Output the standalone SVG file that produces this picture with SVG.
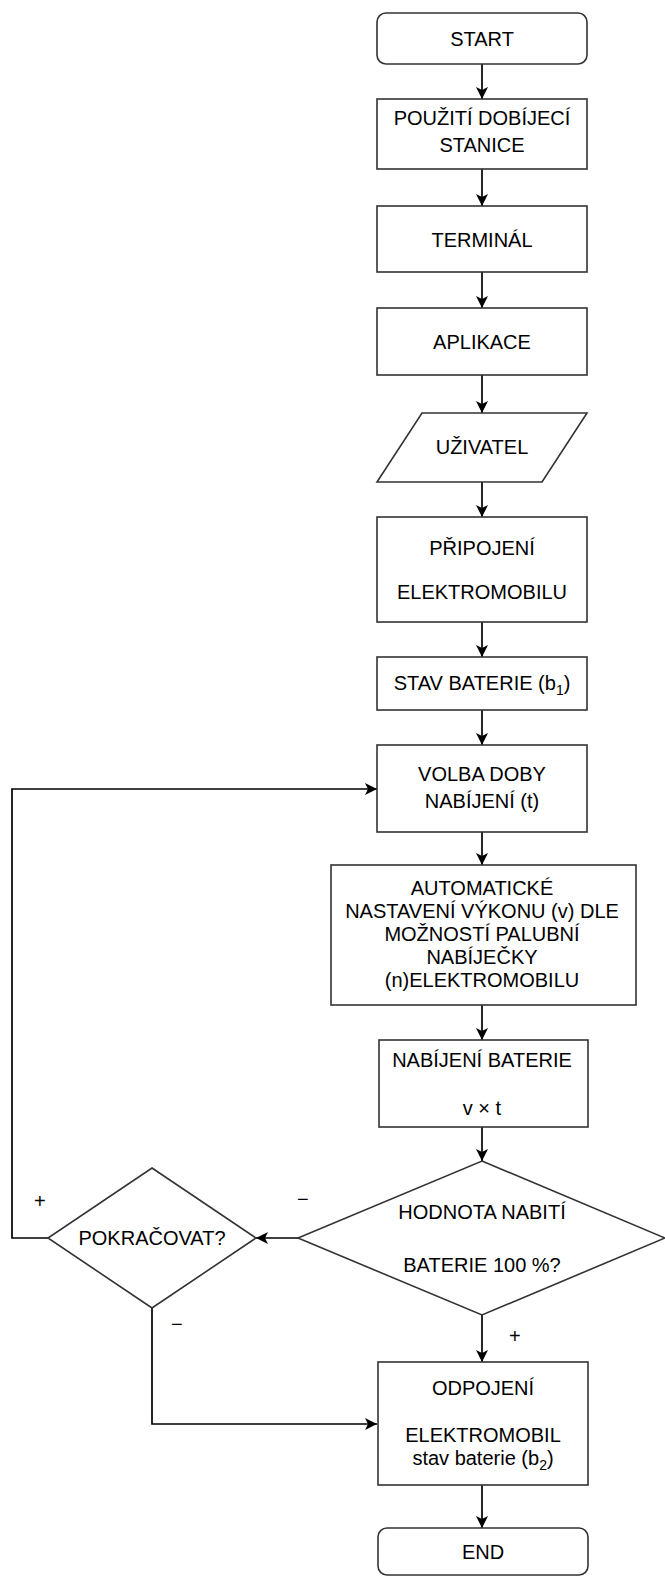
<svg xmlns="http://www.w3.org/2000/svg" width="665" height="1576" viewBox="0 0 665 1576">
<defs>
<marker id="arr" viewBox="0 0 10 10" refX="10" refY="5" markerWidth="12" markerHeight="12" markerUnits="userSpaceOnUse" orient="auto">
<path d="M0,0 L10,5 L0,10 L2.5,5 Z" fill="#000"/>
</marker>
<style>
.n{fill:#fff;stroke:#333;stroke-width:1.6}
.t{font-family:"Liberation Sans",Arial,sans-serif;font-size:20px;fill:#000;text-anchor:middle}
.c{fill:none;stroke:#000;stroke-width:1.7}
.l{font-family:"Liberation Sans",Arial,sans-serif;font-size:20px;fill:#000}
</style>
</defs>
<rect width="665" height="1576" fill="#fff"/>
<g id="connectors">
<path class="c" d="M482,64 V99" marker-end="url(#arr)"/>
<path class="c" d="M482,169 V206" marker-end="url(#arr)"/>
<path class="c" d="M482,272 V308" marker-end="url(#arr)"/>
<path class="c" d="M482,375 V413" marker-end="url(#arr)"/>
<path class="c" d="M482,482 V517" marker-end="url(#arr)"/>
<path class="c" d="M482,622 V657" marker-end="url(#arr)"/>
<path class="c" d="M482,710 V745" marker-end="url(#arr)"/>
<path class="c" d="M482,832 V865" marker-end="url(#arr)"/>
<path class="c" d="M482,1005 V1040" marker-end="url(#arr)"/>
<path class="c" d="M482,1127 V1161" marker-end="url(#arr)"/>
<path class="c" d="M298,1238 H256" marker-end="url(#arr)"/>
<path class="c" d="M48,1238 H12 V789 H377" marker-end="url(#arr)"/>
<path class="c" d="M152,1308 V1424 H377" marker-end="url(#arr)"/>
<path class="c" d="M482,1315 V1362" marker-end="url(#arr)"/>
<path class="c" d="M482,1485 V1528" marker-end="url(#arr)"/>
<text class="l" x="297" y="1206">−</text>
<text class="l" x="34" y="1208">+</text>
<text class="l" x="171" y="1331">−</text>
<text class="l" x="509" y="1343">+</text>
</g>
<g id="start"><rect class="n" x="377" y="13" width="210" height="51" rx="9"/><text class="t" x="482" y="46">START</text></g>
<g id="pouziti"><rect class="n" x="377" y="99" width="210" height="70"/><text class="t" x="482" y="125">POUŽITÍ DOBÍJECÍ</text><text class="t" x="482" y="152">STANICE</text></g>
<g id="terminal"><rect class="n" x="377" y="206" width="210" height="66"/><text class="t" x="482" y="247">TERMINÁL</text></g>
<g id="aplikace"><rect class="n" x="377" y="308" width="210" height="67"/><text class="t" x="482" y="349">APLIKACE</text></g>
<g id="uzivatel"><path class="n" d="M422,413 H587 L542,482 H377 Z"/><text class="t" x="482" y="454">UŽIVATEL</text></g>
<g id="pripojeni"><rect class="n" x="377" y="517" width="210" height="105"/><text class="t" x="482" y="555">PŘIPOJENÍ</text><text class="t" x="482" y="599">ELEKTROMOBILU</text></g>
<g id="stav"><rect class="n" x="377" y="657" width="210" height="53"/><text class="t" x="482" y="690">STAV BATERIE (b<tspan font-size="14" dy="5">1</tspan><tspan dy="-5">)</tspan></text></g>
<g id="volba"><rect class="n" x="377" y="745" width="210" height="87"/><text class="t" x="482" y="781">VOLBA DOBY</text><text class="t" x="482" y="808">NABÍJENÍ (t)</text></g>
<g id="automaticke"><rect class="n" x="331" y="865" width="305" height="140"/><text class="t" x="482" y="895">AUTOMATICKÉ</text><text class="t" x="482" y="918">NASTAVENÍ VÝKONU (v) DLE</text><text class="t" x="482" y="941">MOŽNOSTÍ PALUBNÍ</text><text class="t" x="482" y="964">NABÍJEČKY</text><text class="t" x="482" y="987">(n)ELEKTROMOBILU</text></g>
<g id="nabijeni"><rect class="n" x="379" y="1040" width="209" height="87"/><text class="t" x="482" y="1067">NABÍJENÍ BATERIE</text><text class="t" x="482" y="1115">v × t</text></g>
<g id="hodnota"><path class="n" d="M482,1161 L665,1238 L482,1315 L298,1238 Z"/><text class="t" x="482" y="1219">HODNOTA NABITÍ</text><text class="t" x="482" y="1272">BATERIE 100 %?</text></g>
<g id="pokracovat"><path class="n" d="M152,1168 L256,1238 L152,1308 L48,1238 Z"/><text class="t" x="152" y="1245">POKRAČOVAT?</text></g>
<g id="odpojeni"><rect class="n" x="378" y="1362" width="210" height="123"/><text class="t" x="483" y="1395">ODPOJENÍ</text><text class="t" x="483" y="1442">ELEKTROMOBIL</text><text class="t" x="483" y="1465">stav baterie (b<tspan font-size="14" dy="5">2</tspan><tspan dy="-5">)</tspan></text></g>
<g id="end"><rect class="n" x="378" y="1528" width="210" height="47" rx="9"/><text class="t" x="483" y="1559">END</text></g>
</svg>
